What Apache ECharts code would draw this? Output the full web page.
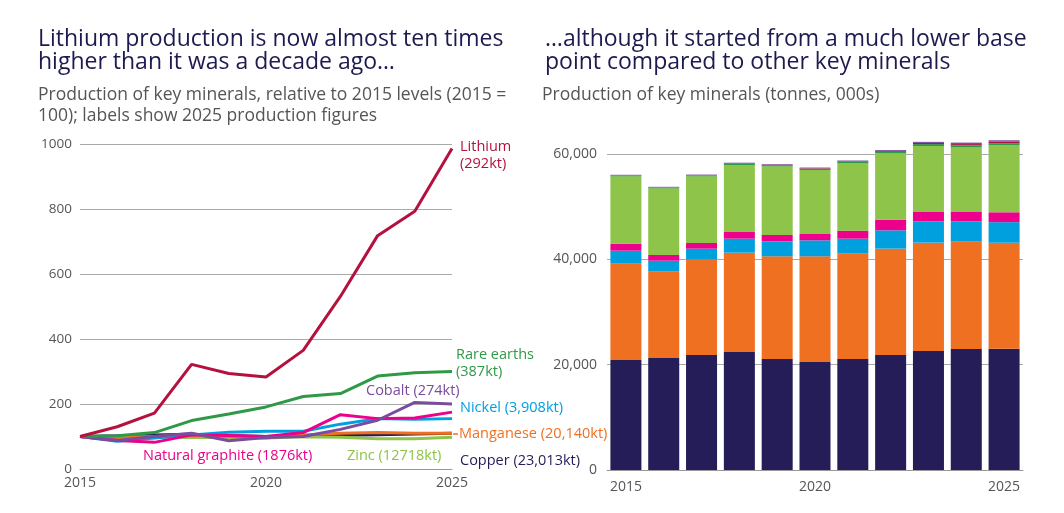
<!DOCTYPE html>
<html><head><meta charset="utf-8">
<script src="https://cdn.jsdelivr.net/npm/echarts@6/dist/echarts.min.js"></script>
<style>html,body{margin:0;padding:0;background:#fff}#c{width:1064px;height:513px}</style>
</head><body><div id="c"></div>
<script>
// ---- Data ----
const years = ['2015','2016','2017','2018','2019','2020','2021','2022','2023','2024','2025'];

// Left chart: index, 2015 = 100
const lithiumIdx    = [100,130,172,322,294,283,365,531,718,793,986];
const rareEarthsIdx = [100,102,112,149,169,191,223,232,286,296,300];
const cobaltIdx     = [100,88,100,110,87,97,100,122,150,205,200];
const nickelIdx     = [100,85,95,105,113,116,116,138,155,153,155];
const graphiteIdx   = [100,88,82,105,103,100,112,167,155,157,175];
const manganeseIdx  = [100,95,100,103,100,95,105,110,112,110,110];
const zincIdx       = [100,100,98,97,98,95,99,98,93,93,98];
const copperIdx     = [100,102,105,107,103,100,102,104,105,108,110];

// Right chart: production, thousand tonnes
const copperKt     = [20890,21270,21840,22415,21080,20510,21080,21840,22600,22990,23013];
const manganeseKt  = [18350,16450,18160,18850,19490,20060,20060,20185,20565,20428,20140];
const nickelKt     = [2405,2025,2025,2658,2848,3038,2785,3481,4051,3797,3908];
const graphiteKt   = [1329,1076,1076,1266,1203,1203,1519,2025,1772,1772,1876];
const zincKt       = [12785,12658,12658,12721,13038,12152,12785,12595,12531,12278,12718];
const rareEarthsKt = [129,132,144,192,218,246,288,299,369,382,387];
const lithiumKt    = [30,38,51,95,87,84,108,157,213,235,292];
const cobaltKt     = [137,121,137,151,119,133,137,167,206,281,274];

const leftTicks = [0,200,400,600,800,1000];
const rightTicks = [0,20000,40000,60000];

// ---- Styles ----
const C = {
  copper:'#241d57', manganese:'#f07022', nickel:'#00a0df', graphite:'#ec008c',
  zinc:'#8dc449', rare:'#2e9a48', lithium:'#b5113f', cobalt:'#7a4c9e'
};
const FONT = 'Open Sans';
const NAVY = '#1d1a4f';
const GREY = '#555';

const chart = echarts.init(document.getElementById('c'), null, {renderer:'canvas'});

function line(name, data, color){
  return {type:'line', name, data, xAxisIndex:0, yAxisIndex:0, symbol:'none',
    lineStyle:{width:3, color}, itemStyle:{color}, z:2};
}
function bar(name, data, color){
  return {type:'bar', name, data, stack:'total', xAxisIndex:1, yAxisIndex:1,
    barCategoryGap:'18%', clip:false, itemStyle:{color}};
}

function label(text, x, y, color){
  return {type:'text', style:{text, x, y, fill:color, fontSize:14.5, fontFamily:FONT, verticalAlign:'middle'}, z:10};
}

const option = {
  backgroundColor:'#fff',
  animation:false,
  textStyle:{fontFamily:FONT},
  title:[
    {text:'Lithium production is now almost ten times\nhigher than it was a decade ago…', left:33, top:23,
      textStyle:{fontSize:23, lineHeight:23, fontWeight:'normal', color:NAVY, fontFamily:FONT}},
    {text:'Production of key minerals, relative to 2015 levels (2015 =\n100); labels show 2025 production figures', left:33, top:80,
      textStyle:{fontSize:17.5, lineHeight:21, fontWeight:'normal', color:GREY, fontFamily:FONT}},
    {text:'…although it started from a much lower base\npoint compared to other key minerals', left:540, top:23,
      textStyle:{fontSize:23, lineHeight:23, fontWeight:'normal', color:NAVY, fontFamily:FONT}},
    {text:'Production of key minerals (tonnes, 000s)', left:537, top:80,
      textStyle:{fontSize:17.5, lineHeight:21, fontWeight:'normal', color:GREY, fontFamily:FONT}}
  ],
  grid:[
    {left:80, right:612, top:144, bottom:44},
    {left:607, right:41, top:154, bottom:43}
  ],
  xAxis:[
    {type:'category', gridIndex:0, data:years, boundaryGap:false,
      axisLine:{lineStyle:{color:'#999', width:1}}, axisTick:{show:false},
      axisLabel:{interval:4, color:GREY, fontSize:14, margin:7, fontFamily:FONT}},
    {type:'category', gridIndex:1, data:years, boundaryGap:true,
      axisLine:{lineStyle:{color:'#999', width:1}}, axisTick:{show:false},
      axisLabel:{interval:4, color:GREY, fontSize:14, margin:10, fontFamily:FONT}}
  ],
  yAxis:[
    {type:'value', gridIndex:0, min:leftTicks[0], max:leftTicks[leftTicks.length-1], interval:200,
      axisLine:{show:false}, axisTick:{show:false},
      splitLine:{lineStyle:{color:'#aaa', width:1}},
      axisLabel:{color:GREY, fontSize:13.5, margin:8, fontFamily:FONT, formatter:v=>String(v)}},
    {type:'value', gridIndex:1, min:rightTicks[0], max:rightTicks[rightTicks.length-1], interval:20000,
      axisLine:{show:false}, axisTick:{show:false},
      splitLine:{lineStyle:{color:'#aaa', width:1}},
      axisLabel:{color:GREY, fontSize:14, margin:10, fontFamily:FONT,
        formatter:v=>v.toLocaleString('en-US')}}
  ],
  series:[
    line('Copper', copperIdx, C.copper),
    line('Zinc', zincIdx, C.zinc),
    line('Manganese', manganeseIdx, C.manganese),
    line('Nickel', nickelIdx, C.nickel),
    line('Natural graphite', graphiteIdx, C.graphite),
    line('Cobalt', cobaltIdx, C.cobalt),
    line('Rare earths', rareEarthsIdx, C.rare),
    line('Lithium', lithiumIdx, C.lithium),
    bar('Copper', copperKt, C.copper),
    bar('Manganese', manganeseKt, C.manganese),
    bar('Nickel', nickelKt, C.nickel),
    bar('Natural graphite', graphiteKt, C.graphite),
    bar('Zinc', zincKt, C.zinc),
    bar('Rare earths', rareEarthsKt, C.rare),
    bar('Lithium', lithiumKt, C.lithium),
    bar('Cobalt', cobaltKt, C.cobalt)
  ],
  graphic:[
    label('Lithium', 460, 147, C.lithium),
    label('(292kt)', 460, 164, C.lithium),
    label('Rare earths', 456, 355, C.rare),
    label('(387kt)', 456, 372, C.rare),
    label('Cobalt (274kt)', 366, 391, C.cobalt),
    label('Nickel (3,908kt)', 460, 408, C.nickel),
    {type:'line', shape:{x1:453, y1:434, x2:458, y2:434}, style:{stroke:C.manganese, lineWidth:1.5}},
    label('Manganese (20,140kt)', 459, 434, C.manganese),
    label('Natural graphite (1876kt)', 143, 456, C.graphite),
    label('Zinc (12718kt)', 347, 456, C.zinc),
    label('Copper (23,013kt)', 460, 461, C.copper)
  ]
};
chart.setOption(option);
</script>
</body></html>
